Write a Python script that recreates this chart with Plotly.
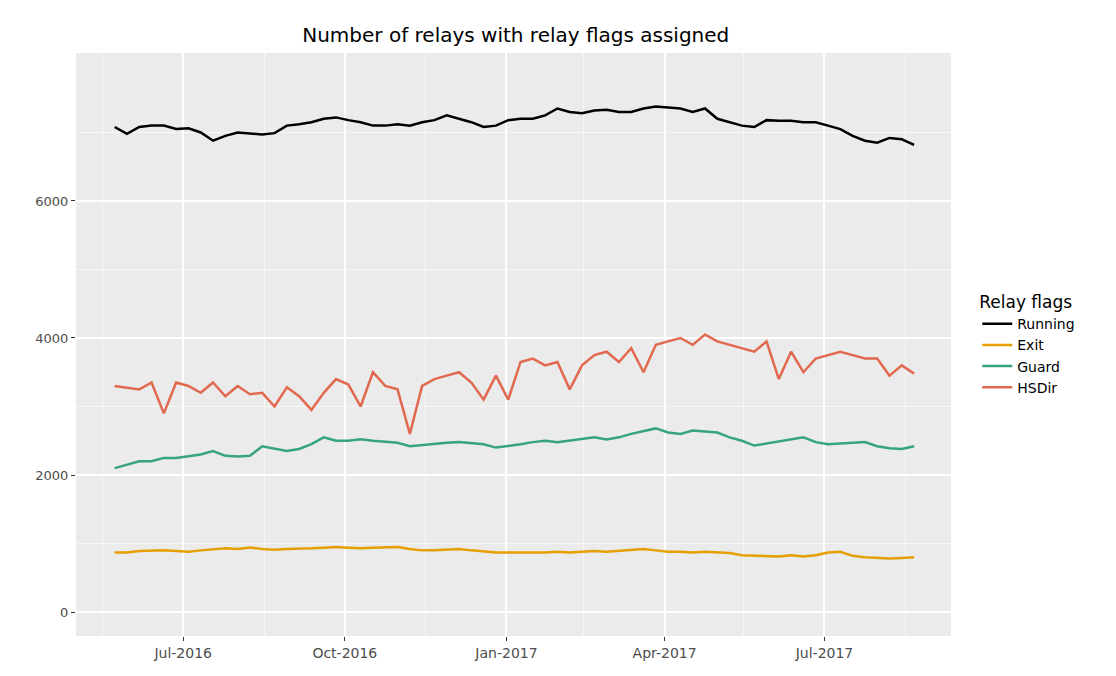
import pandas as pd
import plotly.graph_objects as go

dates = pd.date_range("2016-05-23", periods=66, freq="7D")
running = [7080,6980,7080,7100, 7100,7050,7060,7000, 6880,6950,7000,6980, 6970,6990,7100,7120,
           7150,7200,7220,7180, 7150,7100,7100,7120, 7100,7150,7180,7250, 7200,7150,7080,7100,
           7180,7200,7200,7250, 7350,7300,7280,7320, 7330,7300,7300,7350, 7380,7360,7350,7300,
           7350,7200,7150,7100, 7080,7180,7170,7170, 7150,7150,7100,7050, 6950,6880,6850,6920, 6900,6820]
exit_ = [870,870,890,900, 900,890,880,900, 920,930,920,940, 920,910,920,920,
         930,940,950,940, 930,940,940,950, 920,900,900,910, 920,900,880,870,
         870,870,860,870, 880,870,880,890, 880,890,910,920, 900,880,880,870,
         880,870,860,830, 820,820,810,830, 810,830,870,880, 820,800,790,780, 790,800]
guard = [2100,2150,2200,2200, 2250,2250,2280,2300, 2350,2280,2270,2280, 2420,2380,2350,2380,
         2450,2550,2500,2500, 2520,2500,2480,2470, 2420,2440,2460,2470, 2480,2470,2450,2400,
         2420,2450,2480,2500, 2480,2500,2520,2550, 2520,2550,2600,2640, 2680,2620,2600,2650,
         2640,2620,2550,2500, 2430,2460,2500,2530, 2550,2480,2450,2460, 2470,2480,2420,2390, 2380,2420]
hsdir = [3300,3280,3250,3350, 2900,3350,3300,3200, 3350,3150,3300,3180, 3200,3000,3280,3150,
         2950,3200,3400,3320, 3000,3500,3300,3250, 2600,3300,3400,3450, 3500,3350,3100,3450,
         3100,3650,3700,3600, 3650,3250,3600,3750, 3800,3650,3850,3500, 3900,3950,4000,3900,
         4050,3950,3900,3850, 3800,3950,3400,3800, 3500,3700,3750,3800, 3750,3700,3700,3450, 3600,3480]

series = [("Running", running, "#000000"), ("Exit", exit_, "#e69f00"),
          ("Guard", guard, "#36a47f"), ("HSDir", hsdir, "#e0694f")]

fig = go.Figure()
for name, vals, col in series:
    fig.add_trace(go.Scatter(x=dates, y=vals, mode="lines", name=name,
                             line=dict(color=col, width=2.5)))

fig.update_layout(
    width=1116, height=676,
    margin=dict(l=68, r=173, t=45, b=48, autoexpand=False),
    paper_bgcolor="white", plot_bgcolor="#ebebeb",
    font=dict(family="DejaVu Sans", size=13, color="#4d4d4d"),
    title=dict(text="Number of relays with relay flags assigned", x=0.455, xanchor="center",
               y=0.97, font=dict(size=20, color="black")),
    legend=dict(title=dict(text="Relay flags", font=dict(size=17, color="black")),
                x=1.03, y=0.5, yanchor="middle", font=dict(size=14, color="black"),
                bgcolor="white", tracegroupgap=6),
    showlegend=True,
)
fig.update_xaxes(range=["2016-05-01", "2017-09-11"], automargin=False,
                 tickvals=["2016-07-01", "2016-10-01", "2017-01-01", "2017-04-01", "2017-07-01"],
                 ticktext=["Jul-2016", "Oct-2016", "Jan-2017", "Apr-2017", "Jul-2017"],
                 tickfont=dict(size=14),
                 showgrid=True, gridcolor="white", gridwidth=1.5, zeroline=False,
                 ticks="outside", ticklen=4, tickcolor="#333333",
                 minor=dict(tickvals=["2016-05-16", "2016-08-16", "2016-11-16", "2017-02-14",
                                      "2017-05-16", "2017-08-16"],
                            showgrid=True, gridcolor="#f7f7f7", gridwidth=0.8))
fig.update_yaxes(range=[-350, 8160], tickvals=[0, 2000, 4000, 6000], automargin=False,
                 tickfont=dict(size=13),
                 showgrid=True, gridcolor="white", gridwidth=1.5, zeroline=False,
                 ticks="outside", ticklen=4, tickcolor="#333333",
                 minor=dict(tickvals=[1000, 3000, 5000, 7000], showgrid=True,
                            gridcolor="#f7f7f7", gridwidth=0.8))
fig.write_html("out.html")
